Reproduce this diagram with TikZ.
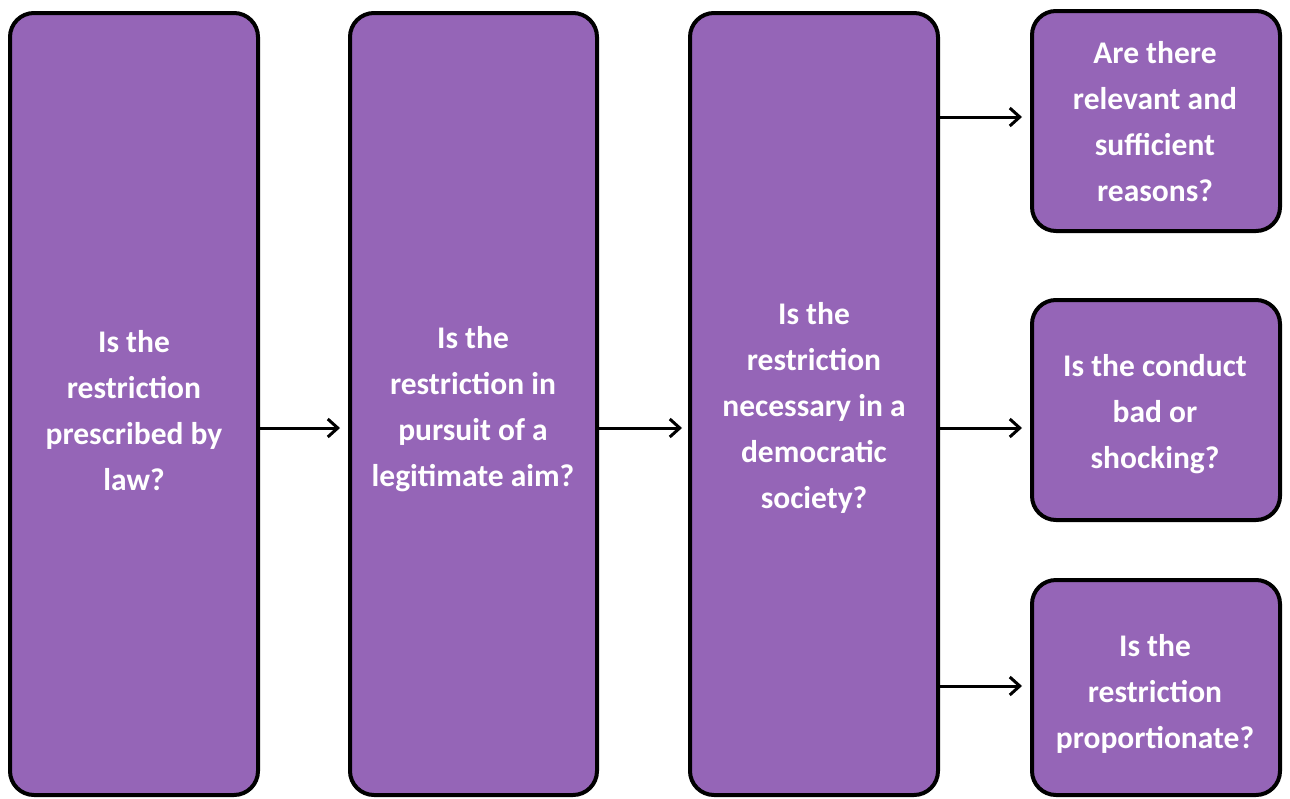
\documentclass[tikz,border=0pt]{standalone}
\usepackage{fontspec}
\setmainfont{Carlito}
\usetikzlibrary{arrows.meta}
\definecolor{boxfill}{HTML}{9565B7}
\tikzset{
  qbox/.style={draw=black, line width=4pt, fill=boxfill, rounded corners=24pt},
  qtext/.style={text=white, align=center, font=\fontsize{31.5}{46}\selectfont\bfseries},
  flow/.style={-{Straight Barb[length=10pt,width=18pt,line width=3pt]}, line width=3pt, black},
}
\begin{document}
\begin{tikzpicture}[x=1pt,y=-1pt]
\useasboundingbox (0,0) rectangle (1290,798);
\draw[qbox] (10,13) rectangle (258,795);
\draw[qbox] (350,13) rectangle (597,795);
\draw[qbox] (690,13) rectangle (938,795);
\draw[qbox] (1032,11) rectangle (1280,231);
\draw[qbox] (1032,300) rectangle (1280,520);
\draw[qbox] (1032,580) rectangle (1280,795);
\node[qtext] (t1) at (134,411) {Is the\\restriction\\prescribed by\\law?};
\node[qtext] (t2) at (473,409) {Is the\\restriction in\\pursuit of a\\legitimate aim?};
\node[qtext] (t3) at (814,408) {Is the\\restriction\\necessary in a\\democratic\\society?};
\node[qtext] (t4) at (1155,122) {Are there\\relevant and\\sufficient\\reasons?};
\node[qtext] (t5) at (1155,414) {Is the conduct\\bad or\\shocking?};
\node[qtext] (t6) at (1155,694) {Is the\\restriction\\proportionate?};
\coordinate (a1s) at (260,428); \coordinate (a1e) at (340,428);
\coordinate (a2s) at (599,428); \coordinate (a2e) at (682,428);
\coordinate (a3s) at (940,117); \coordinate (a3e) at (1022,117);
\coordinate (a4s) at (940,428); \coordinate (a4e) at (1022,428);
\coordinate (a5s) at (940,686); \coordinate (a5e) at (1022,686);
\draw[flow] (a1s) -- (a1e);
\draw[flow] (a2s) -- (a2e);
\draw[flow] (a3s) -- (a3e);
\draw[flow] (a4s) -- (a4e);
\draw[flow] (a5s) -- (a5e);
\end{tikzpicture}
\end{document}
